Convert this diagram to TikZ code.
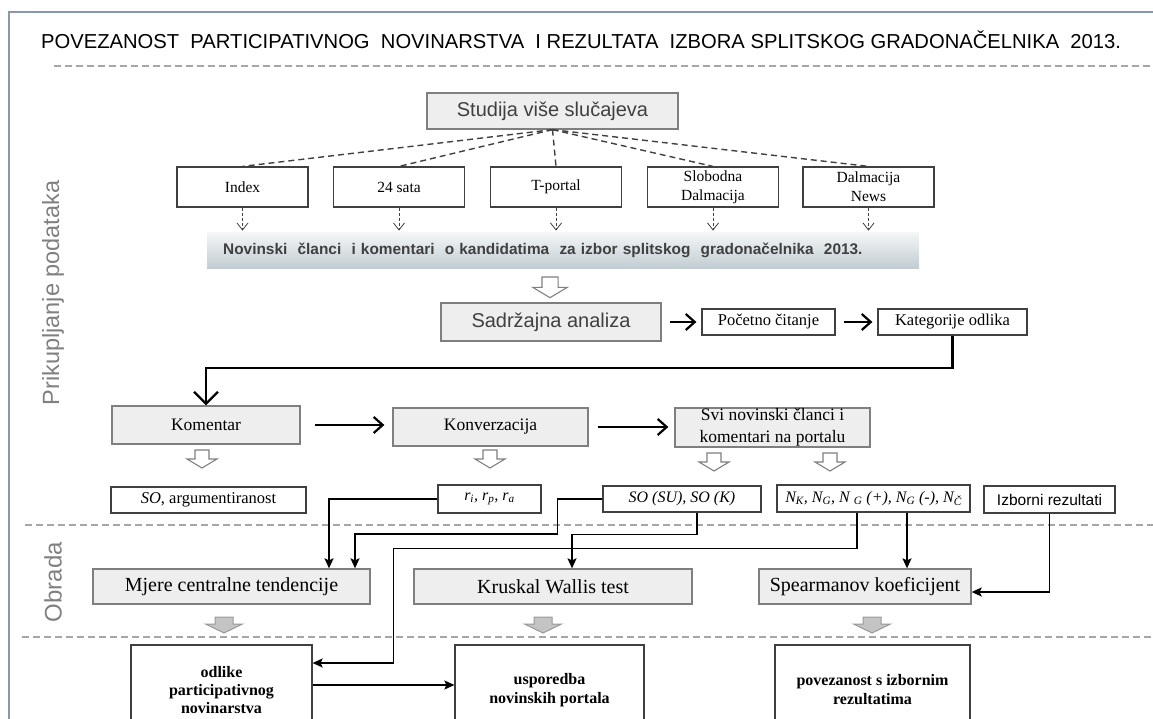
\documentclass[tikz,border=0pt]{standalone}
\usepackage{fontspec}
\setmainfont{Liberation Serif}
\setsansfont{Liberation Sans}
\usetikzlibrary{arrows.meta}
\definecolor{boxfill}{HTML}{EEEEEE}
\definecolor{boxedge}{HTML}{7F7F7F}
\definecolor{sepline}{HTML}{A6A6A6}
\definecolor{frameline}{HTML}{8A98AD}
\definecolor{darktext}{HTML}{404040}
\definecolor{labeltext}{HTML}{808080}
\definecolor{bandtop}{HTML}{F3F5F6}
\definecolor{bandbot}{HTML}{C2CDD2}
\definecolor{arrowgray}{HTML}{C4C4C4}
\begin{document}
\begin{tikzpicture}[x=1pt,y=-1pt,
  graybox/.style={draw=boxedge,fill=boxfill,line width=1.3pt,inner sep=0pt},
  whitebox/.style={draw=darktext,fill=white,line width=1.2pt,inner sep=0pt},
  sep/.style={draw=sepline,line width=1.6pt,dash pattern=on 7pt off 4pt},
  spoke/.style={draw=darktext,line width=1.4pt,dash pattern=on 6pt off 4pt},
  tick/.style={draw=darktext,line width=0.8pt,dash pattern=on 3pt off 2pt,-{Straight Barb[length=7pt,width=11pt]}},
  flow/.style={line width=2.2pt,-{Straight Barb[length=9pt,width=16pt]}},
  flowdown/.style={line width=2.2pt,-{Straight Barb[length=12pt,width=24pt]}},
  conn/.style={line width=1.6pt,-{Stealth[length=10pt,width=9pt,inset=2pt]}},
  hollowtip/.style={draw=boxedge,fill=white,line width=1.1pt},
  graytip/.style={draw=boxedge!80,fill=arrowgray,line width=1pt},
  downarr/.pic={\path[pic actions] (-7,0) -- (7,0) -- (7,9) -- (15,9) -- (0,18) -- (-15,9) -- (-7,9) -- cycle;},
  fatarr/.pic={\path[pic actions] (-9,0) -- (9,0) -- (9,7) -- (18.5,7) -- (0,16) -- (-18.5,7) -- (-9,7) -- cycle;}]
\useasboundingbox (0,0) rectangle (1153,719);
\clip (0,0) rectangle (1153,719);
\draw[frameline,line width=1.3pt] (1160,12) -- (9,12) -- (9,730);
\node[anchor=base west,inner sep=0pt,font=\sffamily\fontsize{20.2}{22}\selectfont] (title) at (41,49)
  {POVEZANOST\ \ PARTICIPATIVNOG\ \ NOVINARSTVA\ \ I REZULTATA\ \ IZBORA SPLITSKOG GRADONAČELNIKA\ \ 2013.};
\draw[sep] (54,66) -- (1153,66);
\draw[sep] (25,525) -- (1153,525);
\draw[sep] (22,637) -- (1153,637);
\node[rotate=90,text=labeltext,font=\sffamily\fontsize{23.5}{24}\selectfont] (prik) at (53,293) {Prikupljanje podataka};
\node[rotate=90,text=labeltext,font=\sffamily\fontsize{24}{24}\selectfont] (obrada) at (53,582) {Obrada};

\node[graybox,minimum width=251pt,minimum height=36pt,text=darktext,font=\sffamily\fontsize{20}{22}\selectfont] (studija) at (552.5,111) {Studija više slučajeva};
\foreach \n/\x/\t in {index/242.5/Index,sata/399/24 sata,tportal/556/T-portal,slobodna/713/{Slobodna\\Dalmacija},dalmnews/868.5/{Dalmacija\\News}}
{
\node[whitebox,minimum width=131pt,minimum height=40pt,align=center,font=\fontsize{15.5}{19}\selectfont] (\n) at (\x,187) {\t};
\draw[spoke] (studija.south) -- (\n.north);
\draw[tick] (\n.south) -- ++(0,23);
}
\node[anchor=west,top color=bandtop,bottom color=bandbot,minimum height=35pt,text width=680pt,inner xsep=16pt,inner ysep=0pt,align=left,text=darktext,font=\sffamily\bfseries\fontsize{15.4}{18}\selectfont] (band) at (207,250.5)
  {Novinski\ \ članci\ \ i komentari\ \ o kandidatima\ \ za izbor splitskog\ \ gradonačelnika\ \ 2013.};
\pic[hollowtip,scale=1.15] at (550,277) {downarr};

\node[graybox,minimum width=220pt,minimum height=38pt,text=darktext,font=\sffamily\fontsize{20}{22}\selectfont] (sadrzaj) at (551,322) {Sadržajna analiza};
\node[whitebox,minimum width=133pt,minimum height=26pt,font=\fontsize{16.5}{18}\selectfont] (pocetno) at (768.5,322) {Početno čitanje};
\node[whitebox,minimum width=149pt,minimum height=26pt,font=\fontsize{16.5}{18}\selectfont] (kateg) at (952.5,322) {Kategorije odlika};
\draw[flow,shorten <=8pt,shorten >=5pt] (sadrzaj.east) -- (pocetno.west);
\draw[flow,shorten <=8pt,shorten >=5pt] (pocetno.east) -- (kateg.west);

\node[graybox,minimum width=188pt,minimum height=38pt,font=\fontsize{17.5}{20}\selectfont] (koment) at (206,425) {Komentar};
\node[graybox,minimum width=195pt,minimum height=38pt,font=\fontsize{17.5}{20}\selectfont] (konverz) at (490.5,427) {Konverzacija};
\node[graybox,minimum width=195pt,minimum height=39pt,align=center,font=\fontsize{17.5}{22}\selectfont] (svi) at (772.5,427.5) {Svi novinski članci i\\komentari na portalu};
\draw[flowdown] (kateg.south) -- ++(0,32) -| (koment.north);
\draw[flow,shorten <=14pt,shorten >=8pt] (koment.east) -- (koment.east -| konverz.west);
\draw[flow,shorten <=9pt,shorten >=6pt] (konverz.east) -- (konverz.east -| svi.west);
\pic[hollowtip] at (202,450) {downarr};
\pic[hollowtip] at (490,450) {downarr};
\pic[hollowtip] at (714,453) {downarr};
\pic[hollowtip] at (830,453) {downarr};

\node[whitebox,minimum width=195pt,minimum height=26pt,font=\fontsize{16.5}{18}\selectfont] (soarg) at (208.5,500) {\textit{SO}, argumentiranost};
\node[whitebox,minimum width=103pt,minimum height=28pt,font=\itshape\fontsize{16}{18}\selectfont] (rvals) at (489.5,499) {r\textsubscript{i}, r\textsubscript{p}, r\textsubscript{a}};
\node[whitebox,minimum width=158pt,minimum height=26pt,font=\itshape\fontsize{16}{18}\selectfont] (sosu) at (682,499) {SO (SU), SO (K)};
\node[whitebox,minimum width=193pt,minimum height=27pt,font=\itshape\fontsize{16}{18}\selectfont] (nvals) at (873.5,498.5) {N\textsubscript{K}, N\textsubscript{G}, N \textsubscript{G} (+), N\textsubscript{G} (-), N\textsubscript{Č}};
\node[whitebox,minimum width=131pt,minimum height=27pt,font=\sffamily\fontsize{15.5}{18}\selectfont] (izborni) at (1049.5,499.5) {Izborni rezultati};

\node[graybox,minimum width=277pt,minimum height=35pt,font=\fontsize{20}{22}\selectfont] (mjere) at (231.5,586.5) {Mjere centralne tendencije};
\node[graybox,minimum width=278pt,minimum height=35pt,font=\fontsize{20}{22}\selectfont] (kruskal) at (553,586.5) {Kruskal Wallis test};
\node[graybox,minimum width=212pt,minimum height=35pt,font=\fontsize{20}{22}\selectfont] (spearman) at (865,586.5) {Spearmanov koeficijent};
\draw[conn] (rvals.west) -| ([xshift=97.5pt]mjere.north);
\draw[conn] (sosu.west) -- ++(-45,0) -- ++(0,35) -| ([xshift=123.5pt]mjere.north);
\draw[conn] ([xshift=15pt]sosu.south) -- ++(0,22) -| ([xshift=19pt]kruskal.north);
\draw[conn] ([xshift=33.5pt]nvals.south) -- ([xshift=42pt]spearman.north);
\draw[conn] (izborni.south) |- ([yshift=-5.5pt]spearman.east);
\pic[graytip] at (224,617) {fatarr};
\pic[graytip] at (543,617) {fatarr};
\pic[graytip] at (872,617) {fatarr};

\node[whitebox,minimum width=181pt,minimum height=90pt,align=center,font=\bfseries\fontsize{16}{18}\selectfont] (odlike) at (221.5,690) {odlike\\participativnog\\novinarstva};
\node[whitebox,minimum width=189pt,minimum height=90pt,align=center,font=\bfseries\fontsize{16}{19}\selectfont] (usporedba) at (549.5,690) {usporedba\\novinskih portala};
\node[whitebox,minimum width=195pt,minimum height=90pt,align=center,font=\bfseries\fontsize{16}{19}\selectfont] (povez) at (872.5,690) {povezanost s izbornim\\rezultatima};
\draw[conn] ([xshift=-16.5pt]nvals.south) -- ++(0,36) -| ([xshift=81pt,yshift=27pt]odlike.east) -- ([yshift=27pt]odlike.east);
\draw[conn] ([yshift=5pt]odlike.east) -- ([yshift=5pt]usporedba.west);
\end{tikzpicture}
\end{document}
